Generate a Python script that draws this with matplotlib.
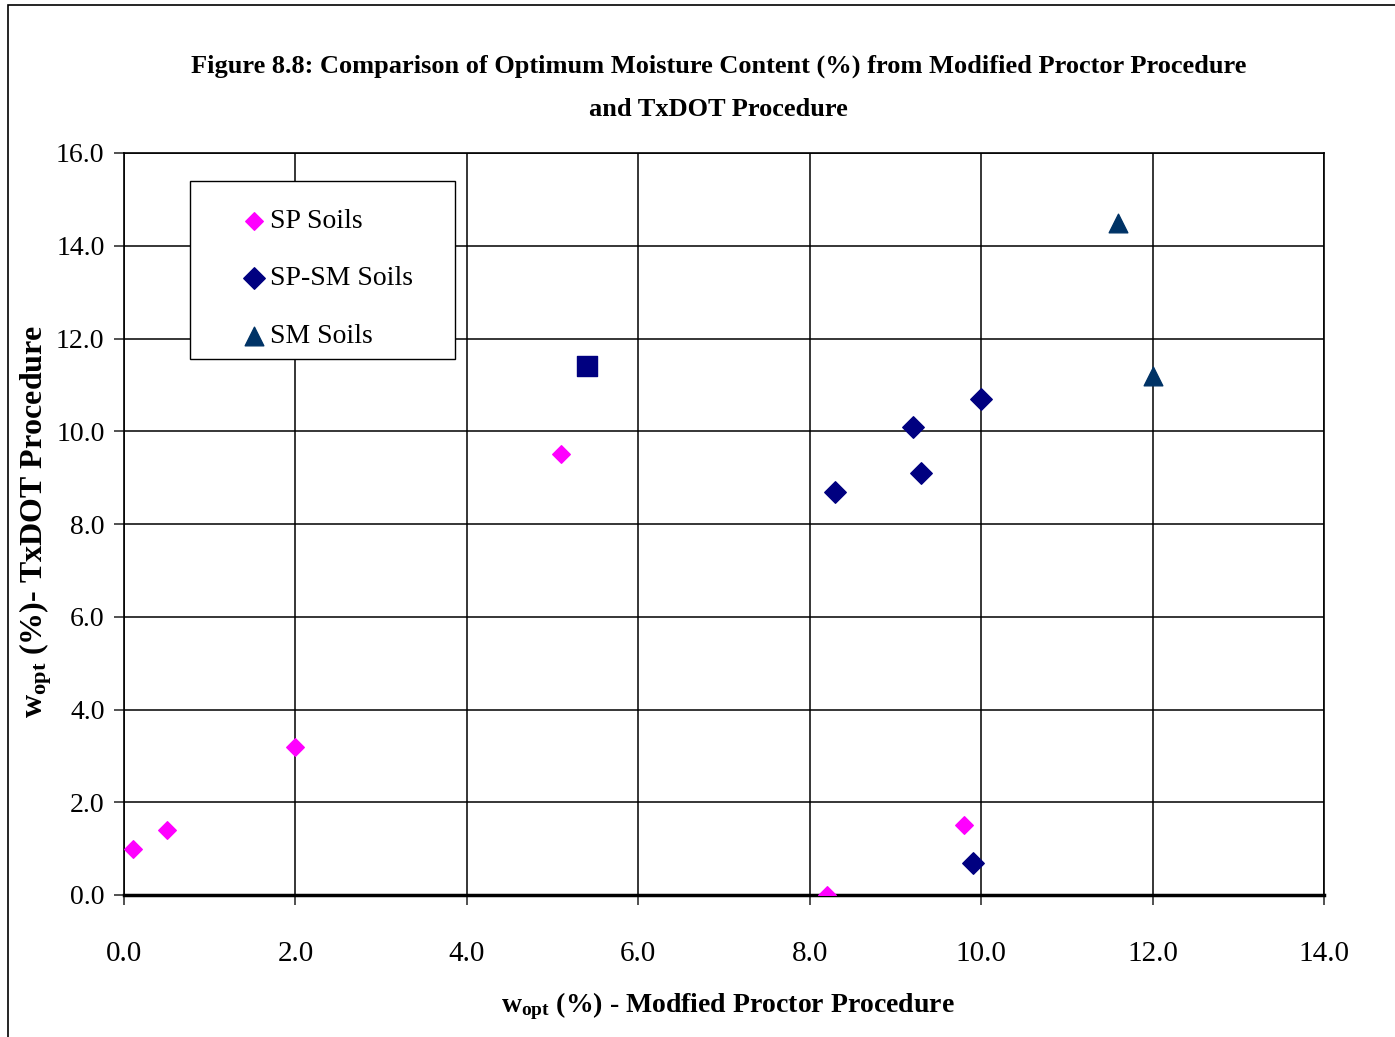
import matplotlib
matplotlib.use("Agg")
import matplotlib.pyplot as plt
from matplotlib.patches import Rectangle

plt.rcParams['font.family'] = ['Liberation Serif', 'DejaVu Serif']
plt.rcParams['mathtext.fontset'] = 'custom'
plt.rcParams['mathtext.rm'] = 'Liberation Serif'
plt.rcParams['mathtext.bf'] = 'Liberation Serif:bold'

# data
sp_x = [0.1, 0.5, 2.0, 5.1, 8.2, 9.8]
sp_y = [1.0, 1.4, 3.2, 9.5, 0.0, 1.5]
spsm_x = [8.3, 9.2, 9.3, 10.0, 9.9]
spsm_y = [8.7, 10.1, 9.1, 10.7, 0.7]
spsm_sq_x = [5.4]
spsm_sq_y = [11.4]
sm_x = [11.6, 12.0]
sm_y = [14.5, 11.2]

xticks = [0, 2, 4, 6, 8, 10, 12, 14]
yticks = [0, 2, 4, 6, 8, 10, 12, 14, 16]

fig = plt.figure(figsize=(13.95, 10.37), dpi=100)
ax = fig.add_axes([124/1395, 1 - 895/1037, 1200/1395, 742/1037])

# outer chart border
fig.patches.append(Rectangle((8/1395, -0.01), 1.1, 1 - 5/1037 + 0.01,
                             transform=fig.transFigure, fill=False,
                             edgecolor='black', linewidth=1.2))

ax.scatter(sp_x, sp_y, marker='D', s=80, color='#ff00ff', zorder=3, label='SP Soils')
ax.scatter(spsm_x, spsm_y, marker='D', s=120, color='#000080', zorder=3, label='SP-SM Soils')
ax.scatter(spsm_sq_x, spsm_sq_y, marker='s', s=220, color='#000080', zorder=3)
ax.scatter(sm_x, sm_y, marker='^', s=180, color='#003366', zorder=3, label='SM Soils')

ax.set_xlim(0, 14)
ax.set_ylim(0, 16)
ax.set_xticks(xticks)
ax.set_yticks(yticks)
ax.set_xticklabels(['%.1f' % v for v in xticks])
ax.set_yticklabels(['%.1f' % v for v in yticks])
ax.tick_params(axis='both', labelsize=21, direction='out', length=7, width=1.2, color='#333333')
ax.tick_params(axis='x', pad=26)
ax.tick_params(axis='y', labelsize=20, pad=7)
ax.grid(True, color='black', linewidth=1.1)
ax.set_axisbelow(True)
for s in ax.spines.values():
    s.set_linewidth(1.2)
ax.spines['bottom'].set_linewidth(2.5)

ax.set_xlabel(r'$\mathbf{w_{opt}}$' + ' (%) - Modfied Proctor Procedure',
              fontsize=20, fontweight='bold')
ax.xaxis.set_label_coords(0.503, -0.128)
ax.set_ylabel(r'$\mathbf{w_{opt}}$' + ' (%)- TxDOT Procedure',
              fontsize=23, fontweight='bold')
ax.yaxis.set_label_coords(-0.058, 0.503)

fig.text(0.515, 1 - 66/1037, 'Figure 8.8: Comparison of Optimum Moisture Content (%) from Modified Proctor Procedure',
         ha='center', va='center', fontsize=19, fontweight='bold')
fig.text(0.515, 1 - 109/1037, 'and TxDOT Procedure',
         ha='center', va='center', fontsize=19, fontweight='bold')

# legend frame drawn separately so padding can match the original
ax.add_patch(Rectangle((0.055, 0.722), 0.221, 0.24, transform=ax.transAxes,
                       facecolor='white', edgecolor='black', linewidth=1.0, zorder=4))
leg = ax.legend(loc='upper left', bbox_to_anchor=(0.097, 0.925), fontsize=20,
                frameon=False, handletextpad=0.05, labelspacing=1.15, borderpad=0,
                handlelength=1.0, borderaxespad=0)
leg.set_zorder(5)

fig.savefig('out.png', dpi=100)
